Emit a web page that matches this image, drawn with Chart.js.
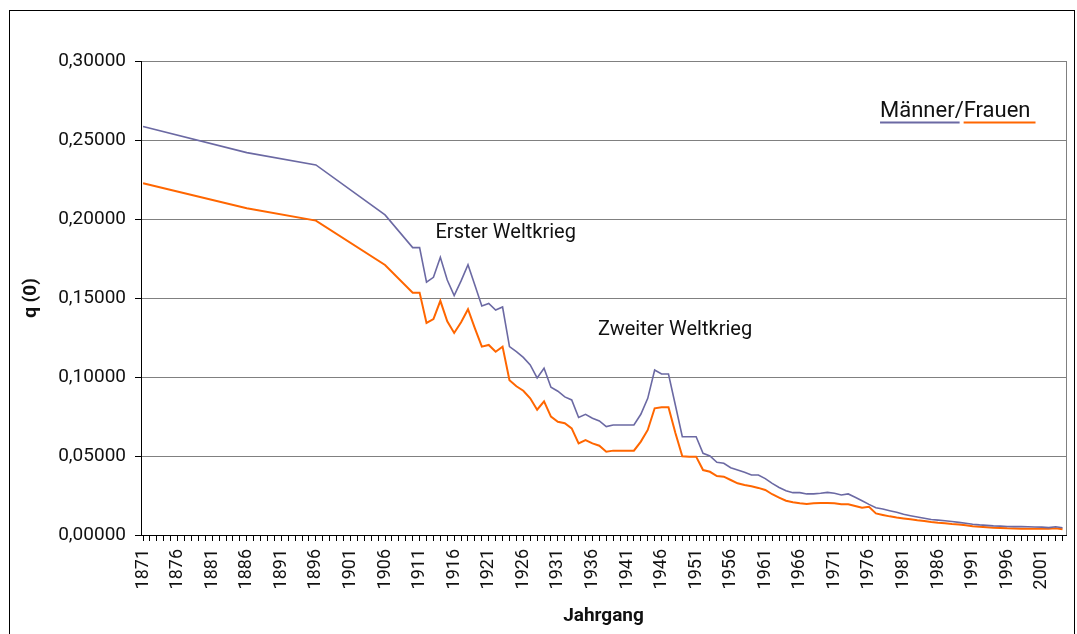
<!DOCTYPE html>
<html>
<head>
<meta charset="utf-8">
<script src="https://cdn.jsdelivr.net/npm/chart.js@4.4.1/dist/chart.umd.min.js"></script>
<style>
  html, body { margin: 0; padding: 0; background: #fff; }
  #wrap { width: 1077px; height: 634px; }
</style>
</head>
<body>
<div id="wrap"><canvas id="myChart"></canvas></div>
<script>
var years = [1871, 1886, 1896, 1906,
    1910, 1911, 1912, 1913, 1914, 1915, 1916, 1917, 1918, 1919,
    1920, 1921, 1922, 1923, 1924, 1925, 1926, 1927, 1928, 1929,
    1930, 1931, 1932, 1933, 1934, 1935, 1936, 1937, 1938, 1939,
    1940, 1941, 1942, 1943, 1944, 1945, 1946, 1947, 1948, 1949,
    1950, 1951, 1952, 1953, 1954, 1955, 1956, 1957, 1958, 1959,
    1960, 1961, 1962, 1963, 1964, 1965, 1966, 1967, 1968, 1969,
    1970, 1971, 1972, 1973, 1974, 1975, 1976, 1977, 1978, 1979,
    1980, 1981, 1982, 1983, 1984, 1985, 1986, 1987, 1988, 1989,
    1990, 1991, 1992, 1993, 1994, 1995, 1996, 1997, 1998, 1999,
    2000, 2001, 2002, 2003, 2004];

var maenner = [0.2585, 0.2420, 0.2342, 0.2026,
    0.1819, 0.1819, 0.1600, 0.1631, 0.1758, 0.1614, 0.1515, 0.1608, 0.1711, 0.1580,
    0.1450, 0.1465, 0.1424, 0.1443, 0.1192, 0.1160, 0.1124, 0.1076, 0.0994, 0.1055,
    0.0935, 0.0910, 0.0874, 0.0855, 0.0744, 0.0764, 0.0739, 0.0722, 0.0686, 0.0696,
    0.0696, 0.0696, 0.0696, 0.0764, 0.0865, 0.1044, 0.1019, 0.1019, 0.0821, 0.0622,
    0.0622, 0.0622, 0.0517, 0.0500, 0.0460, 0.0454, 0.0426, 0.0411, 0.0397, 0.0380,
    0.0380, 0.0357, 0.0327, 0.0301, 0.0280, 0.0268, 0.0268, 0.0260, 0.0260, 0.0264,
    0.0270, 0.0264, 0.0253, 0.0260, 0.0239, 0.0217, 0.0194, 0.0173, 0.0165, 0.0154,
    0.0144, 0.0131, 0.0122, 0.0114, 0.0106, 0.0098, 0.0094, 0.0090, 0.0085, 0.0080,
    0.0074, 0.0068, 0.0064, 0.0061, 0.0058, 0.0056, 0.0054, 0.0053, 0.0053, 0.0052,
    0.0051, 0.0050, 0.0047, 0.0052, 0.0046];

var frauen = [0.2226, 0.2068, 0.1990, 0.1709,
    0.1534, 0.1534, 0.1342, 0.1366, 0.1482, 0.1352, 0.1279, 0.1347, 0.1429, 0.1308,
    0.1192, 0.1203, 0.1160, 0.1192, 0.0979, 0.0941, 0.0913, 0.0865, 0.0793, 0.0846,
    0.0749, 0.0717, 0.0707, 0.0675, 0.0580, 0.0601, 0.0580, 0.0565, 0.0527, 0.0534,
    0.0534, 0.0534, 0.0534, 0.0591, 0.0665, 0.0802, 0.0808, 0.0808, 0.0646, 0.0498,
    0.0496, 0.0496, 0.0411, 0.0400, 0.0373, 0.0369, 0.0348, 0.0327, 0.0316, 0.0308,
    0.0298, 0.0285, 0.0258, 0.0237, 0.0217, 0.0207, 0.0201, 0.0196, 0.0201, 0.0203,
    0.0203, 0.0201, 0.0194, 0.0194, 0.0184, 0.0173, 0.0179, 0.0137, 0.0127, 0.0118,
    0.0111, 0.0105, 0.0099, 0.0093, 0.0088, 0.0082, 0.0078, 0.0075, 0.0070, 0.0066,
    0.0061, 0.0056, 0.0052, 0.0049, 0.0046, 0.0044, 0.0042, 0.0041, 0.0040, 0.0040,
    0.0040, 0.0040, 0.0040, 0.0042, 0.0036];

// text labels placed in data coordinates
var notes = [
    { text: 'Erster Weltkrieg', x: 1913.3, y: 0.1912 },
    { text: 'Zweiter Weltkrieg', x: 1936.8, y: 0.1298 }
];
var legendText = { text: 'Männer/Frauen', x: 1977.6, y: 0.268 };

var colMaenner = '#6b69a3';
var colFrauen = '#ff6600';

function pts(vals) {
    return years.map(function(y, i) { return { x: y, y: vals[i] }; });
}

var extras = {
    id: 'extras',
    beforeDraw: function(chart) {
        var c = chart.ctx;
        c.save();
        c.fillStyle = '#fff';
        c.fillRect(0, 0, chart.width, chart.height);
        c.restore();
    },
    afterDraw: function(chart) {
        var c = chart.ctx, xs = chart.scales.x, ys = chart.scales.y, a = chart.chartArea;
        c.save();
        // outer frame
        c.strokeStyle = '#000';
        c.lineWidth = 1;
        c.strokeRect(9.5, 10.5, 1065, 700);
        // right edge of plot area
        c.strokeStyle = '#808080';
        c.beginPath();
        c.moveTo(Math.round(a.right) + 0.5, a.top);
        c.lineTo(Math.round(a.right) + 0.5, a.bottom);
        c.stroke();

        c.fillStyle = '#111';
        c.textBaseline = 'middle';
        c.textAlign = 'left';
        c.font = '20px Roboto';
        notes.forEach(function(n) {
            c.fillText(n.text, xs.getPixelForValue(n.x), ys.getPixelForValue(n.y));
        });

        c.font = '22px Roboto';
        var lx = xs.getPixelForValue(legendText.x), ly = ys.getPixelForValue(legendText.y);
        c.fillText(legendText.text, lx, ly);
        var wM = c.measureText('Männer').width;
        var wAll = c.measureText(legendText.text).width;
        c.lineWidth = 2;
        c.strokeStyle = colMaenner;
        c.beginPath();
        c.moveTo(lx, ly + 11);
        c.lineTo(lx + wM + 5, ly + 11);
        c.stroke();
        c.strokeStyle = colFrauen;
        c.beginPath();
        c.moveTo(lx + wM + 9, ly + 11);
        c.lineTo(lx + wAll + 5, ly + 11);
        c.stroke();
        c.restore();
    }
};

new Chart(document.getElementById('myChart').getContext('2d'), {
    type: 'line',
    plugins: [extras],
    data: {
        datasets: [
            {
                label: 'Männer',
                data: pts(maenner),
                borderColor: colMaenner,
                borderWidth: 1.6,
                pointRadius: 0,
                tension: 0
            },
            {
                label: 'Frauen',
                data: pts(frauen),
                borderColor: colFrauen,
                borderWidth: 2,
                pointRadius: 0,
                tension: 0
            }
        ]
    },
    options: {
        responsive: true,
        maintainAspectRatio: false,
        animation: false,
        layout: { padding: { top: 61, left: 20, right: 11, bottom: 0 } },
        plugins: {
            legend: { display: false },
            tooltip: { enabled: false }
        },
        scales: {
            x: {
                type: 'linear',
                min: 1870.7,
                max: 2004.5,
                afterFit: function(s) {
                    s.height = 99;
                    s.paddingLeft = 0;
                    s.paddingRight = 0;
                },
                border: { color: '#000', width: 1 },
                grid: {
                    drawOnChartArea: false,
                    drawTicks: true,
                    tickLength: 6,
                    tickColor: '#000'
                },
                ticks: {
                    stepSize: 1,
                    autoSkip: false,
                    includeBounds: false,
                    maxRotation: 90,
                    minRotation: 90,
                    padding: 8,
                    color: '#111',
                    font: { family: 'Roboto', size: 18 },
                    callback: function(v) {
                        return (v - 1871) % 5 === 0 ? String(v) : '';
                    }
                },
                title: {
                    display: true,
                    text: 'Jahrgang',
                    color: '#111',
                    font: { family: 'Roboto', size: 19, weight: 'bold' },
                    padding: { top: 4, bottom: 6 }
                }
            },
            y: {
                min: 0,
                max: 0.3,
                afterFit: function(s) { s.width = 121; },
                border: { color: '#000', width: 1 },
                grid: {
                    color: '#808080',
                    tickColor: '#000',
                    tickLength: 6
                },
                ticks: {
                    stepSize: 0.05,
                    padding: 9,
                    color: '#111',
                    font: { family: 'Roboto', size: 19 },
                    callback: function(v) { return v.toFixed(5).replace('.', ','); }
                },
                title: {
                    display: true,
                    text: 'q (0)',
                    color: '#111',
                    font: { family: 'Roboto', size: 19, weight: 'bold' },
                    padding: 0
                }
            }
        }
    }
});
</script>
</body>
</html>
